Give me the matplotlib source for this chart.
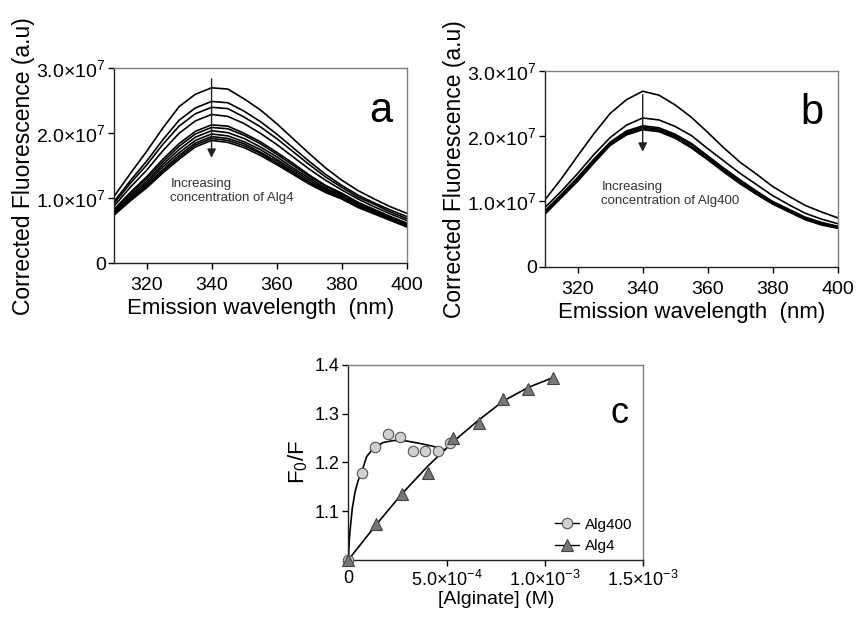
import numpy as np
import matplotlib
matplotlib.use("Agg")
import matplotlib.pyplot as plt

plt.rcParams['font.family'] = ['Liberation Sans', 'DejaVu Sans']
plt.rcParams['mathtext.fontset'] = 'custom'
plt.rcParams['mathtext.rm'] = 'Liberation Sans'
plt.rcParams['mathtext.it'] = 'Liberation Sans:italic'

# emission wavelengths (nm), 5 nm steps
wavelength = [310, 315, 320, 325, 330, 335, 340, 345, 350, 355,
              360, 365, 370, 375, 380, 385, 390, 395, 400]

# panel a: spectra with increasing Alg4 (x1e6 a.u.)
alg4_spectra = [
    [10.3, 13.8, 17.2, 20.8, 24.1, 26.0, 27.0, 26.8, 25.3, 23.6, 21.5, 19.2, 16.9, 14.7, 12.8, 11.2, 9.9, 8.7, 7.7],
    [9.5, 12.7, 15.7, 19.0, 22.0, 23.9, 24.9, 24.7, 23.4, 21.8, 19.9, 17.8, 15.7, 13.7, 12.0, 10.5, 9.3, 8.2, 7.2],
    [9.2, 12.3, 15.1, 18.3, 21.1, 23.0, 24.0, 23.8, 22.5, 21.0, 19.2, 17.2, 15.2, 13.3, 11.7, 10.2, 9.1, 7.9, 6.9],
    [8.8, 11.7, 14.3, 17.3, 20.0, 21.9, 22.9, 22.6, 21.5, 20.0, 18.3, 16.4, 14.5, 12.8, 11.3, 9.9, 8.7, 7.6, 6.6],
    [8.3, 10.9, 13.3, 16.0, 18.4, 20.3, 21.3, 21.1, 20.0, 18.7, 17.1, 15.4, 13.6, 12.0, 10.8, 9.4, 8.3, 7.2, 6.2],
    [8.1, 10.7, 13.0, 15.6, 18.0, 19.9, 20.9, 20.7, 19.7, 18.4, 16.8, 15.1, 13.4, 11.9, 10.6, 9.2, 8.2, 7.1, 6.1],
    [7.9, 10.4, 12.6, 15.2, 17.5, 19.4, 20.4, 20.1, 19.2, 17.9, 16.4, 14.7, 13.1, 11.6, 10.4, 9.1, 8.0, 7.0, 6.0],
    [7.8, 10.1, 12.3, 14.8, 17.0, 18.9, 19.9, 19.6, 18.7, 17.5, 16.0, 14.4, 12.8, 11.4, 10.3, 8.9, 7.9, 6.9, 5.9],
    [7.6, 9.9, 12.0, 14.4, 16.6, 18.5, 19.5, 19.2, 18.4, 17.1, 15.7, 14.1, 12.5, 11.2, 10.1, 8.8, 7.8, 6.8, 5.8],
    [7.5, 9.8, 11.8, 14.2, 16.3, 18.2, 19.2, 18.9, 18.1, 16.9, 15.4, 13.9, 12.4, 11.0, 10.0, 8.7, 7.7, 6.7, 5.7],
    [7.4, 9.6, 11.6, 13.9, 16.0, 17.9, 18.9, 18.6, 17.8, 16.6, 15.2, 13.7, 12.2, 10.9, 9.9, 8.6, 7.6, 6.6, 5.6],
]

# panel b: spectra with increasing Alg400 (x1e6 a.u.)
alg400_spectra = [
    [10.3, 13.5, 17.0, 20.4, 23.5, 25.6, 26.9, 26.3, 24.8, 22.9, 20.6, 18.2, 16.0, 14.2, 12.3, 10.8, 9.4, 8.4, 7.5],
    [9.1, 11.6, 14.3, 17.2, 19.8, 21.7, 22.8, 22.5, 21.5, 20.1, 18.1, 16.2, 14.3, 12.6, 10.9, 9.5, 8.2, 7.3, 6.6],
    [8.6, 11.1, 13.7, 16.5, 19.1, 20.8, 21.6, 21.3, 20.3, 18.9, 17.0, 15.1, 13.3, 11.6, 10.0, 8.8, 7.6, 6.8, 6.2],
    [8.4, 10.9, 13.5, 16.3, 18.9, 20.6, 21.4, 21.1, 20.1, 18.7, 16.8, 14.9, 13.1, 11.4, 9.9, 8.7, 7.5, 6.7, 6.1],
    [8.25, 10.75, 13.3, 16.1, 18.7, 20.4, 21.2, 20.9, 19.9, 18.4, 16.6, 14.7, 12.9, 11.25, 9.75, 8.55, 7.35, 6.55, 6.0],
    [8.1, 10.6, 13.1, 15.9, 18.6, 20.2, 21.0, 20.7, 19.7, 18.2, 16.4, 14.5, 12.7, 11.1, 9.6, 8.4, 7.2, 6.4, 5.9],
]

# panel c: Stern-Volmer data
alg400_conc = [0, 0.71e-4, 1.36e-4, 2.0e-4, 2.64e-4, 3.27e-4, 3.88e-4, 4.54e-4, 5.17e-4]
alg400_f0f = [1.0, 1.178, 1.232, 1.259, 1.252, 1.224, 1.224, 1.224, 1.239]
alg4_conc = [0, 1.39e-4, 2.71e-4, 4.03e-4, 5.34e-4, 6.63e-4, 7.88e-4, 9.15e-4, 1.04e-3]
alg4_f0f = [1.0, 1.073, 1.135, 1.178, 1.250, 1.281, 1.330, 1.350, 1.374]

# fitted curves
fit400_x = [0, 0.05e-4, 0.1e-4, 0.2e-4, 0.34e-4, 0.5e-4, 0.68e-4, 0.93e-4, 1.27e-4,
            1.78e-4, 2.29e-4, 2.97e-4, 3.64e-4, 4.32e-4, 4.9e-4]
fit400_y = [1.0, 1.04, 1.065, 1.105, 1.139, 1.163, 1.18, 1.212, 1.229,
            1.241, 1.245, 1.244, 1.239, 1.233, 1.226]
fit4_x = [0, 1.39e-4, 2.71e-4, 4.03e-4, 5.34e-4, 6.63e-4, 7.88e-4, 9.15e-4, 1.04e-3]
fit4_y = [1.0, 1.071, 1.135, 1.192, 1.243, 1.287, 1.326, 1.354, 1.374]

spec_yticks = [0, 1e7, 2e7, 3e7]
spec_yticklabels = ['0', '1.0×10$^{7}$', '2.0×10$^{7}$', '3.0×10$^{7}$']
c_xticks = [0, 5e-4, 1e-3, 1.5e-3]
c_xticklabels = ['0', '5.0×10$^{-4}$', '1.0×10$^{-3}$', '1.5×10$^{-3}$']


def style_axes(ax, size):
    ax.spines['left'].set_color('#222222')
    ax.spines['bottom'].set_color('#222222')
    ax.spines['top'].set_color('#808080')
    ax.spines['right'].set_color('#808080')
    for s in ax.spines.values():
        s.set_linewidth(1.0)
    ax.tick_params(direction='out', length=4, width=1, labelsize=size,
                   top=False, right=False, pad=2)
    ax.tick_params(axis='x', pad=6)


def spectra_panel(ax, spectra, label, text):
    wl = np.array(wavelength)
    for s in spectra:
        ax.plot(wl, np.array(s) * 1e6, color='black', lw=1.2,
                solid_joinstyle='round')
    ax.set_xlim(310, 400)
    ax.set_ylim(0, 3e7)
    ax.set_xticks([320, 340, 360, 380, 400])
    ax.set_yticks(spec_yticks)
    ax.set_yticklabels(spec_yticklabels)
    ax.set_xlabel('Emission wavelength  (nm)', fontsize=16, labelpad=3)
    ax.set_ylabel('Corrected Fluorescence (a.u)', fontsize=16.5, labelpad=1)
    ax.text(392, 2.35e7, label, fontsize=30, ha='center', va='center')
    ax.text(327.3, 1.32e7, text, fontsize=9.5, color='#333333', va='top',
            linespacing=1.25)
    style_axes(ax, 14)


fig = plt.figure(figsize=(8.56, 6.18), dpi=100)

ax_a = fig.add_axes([0.1332, 0.5739, 0.3419, 0.3156])
spectra_panel(ax_a, alg4_spectra, 'a', 'Increasing\nconcentration of Alg4')
ax_a.annotate('', xy=(340, 1.58e7), xytext=(340, 2.88e7),
              arrowprops=dict(arrowstyle='-|>', color='#222222', lw=1,
                              mutation_scale=13))

ax_b = fig.add_axes([0.6369, 0.5684, 0.3417, 0.3167])
spectra_panel(ax_b, alg400_spectra, 'b', 'Increasing\nconcentration of Alg400')
ax_b.annotate('', xy=(340, 1.72e7), xytext=(340, 2.68e7),
              arrowprops=dict(arrowstyle='-|>', color='#222222', lw=1,
                              mutation_scale=13))

ax_c = fig.add_axes([0.4069, 0.0939, 0.3446, 0.3155])
ax_c.plot(fit400_x, fit400_y, color='black', lw=1.2, zorder=2)
ax_c.plot(fit4_x, fit4_y, color='black', lw=1.2, zorder=2)
ax_c.plot(alg400_conc, alg400_f0f, ls='none', marker='o', ms=7.5,
          mfc='#d0d0d0', mec='#555555', mew=0.8, zorder=3, clip_on=False)
ax_c.plot(alg4_conc, alg4_f0f, ls='none', marker='^', ms=8,
          mfc='#777777', mec='#444444', mew=0.8, zorder=3, clip_on=False)
ax_c.set_xlim(0, 1.5e-3)
ax_c.set_ylim(1.0, 1.4)
ax_c.set_xticks(c_xticks)
ax_c.set_xticklabels(c_xticklabels)
ax_c.set_yticks([1.1, 1.2, 1.3, 1.4])
ax_c.set_ylabel('F$_0$/F', fontsize=16, labelpad=4)
ax_c.text(1.38e-3, 1.30, 'c', fontsize=26, ha='center', va='center')
style_axes(ax_c, 13)
ax_c.tick_params(axis='x', pad=3)
ax_c.set_xlabel('[Alginate] (M)', fontsize=14, labelpad=1)

# legend
h1, = ax_c.plot([], [], color='black', lw=1, marker='o', ms=7.5,
                mfc='#d0d0d0', mec='#555555', mew=0.8)
h2, = ax_c.plot([], [], color='black', lw=1, marker='^', ms=8,
                mfc='#777777', mec='#444444', mew=0.8)
ax_c.legend([h1, h2], ['Alg400', 'Alg4'], loc='lower right', frameon=False,
            fontsize=11, handlelength=1.6, handletextpad=0.4,
            borderaxespad=0.3, bbox_to_anchor=(1.0, -0.02), labelspacing=0.5)

fig.savefig('out.png', dpi=100)
